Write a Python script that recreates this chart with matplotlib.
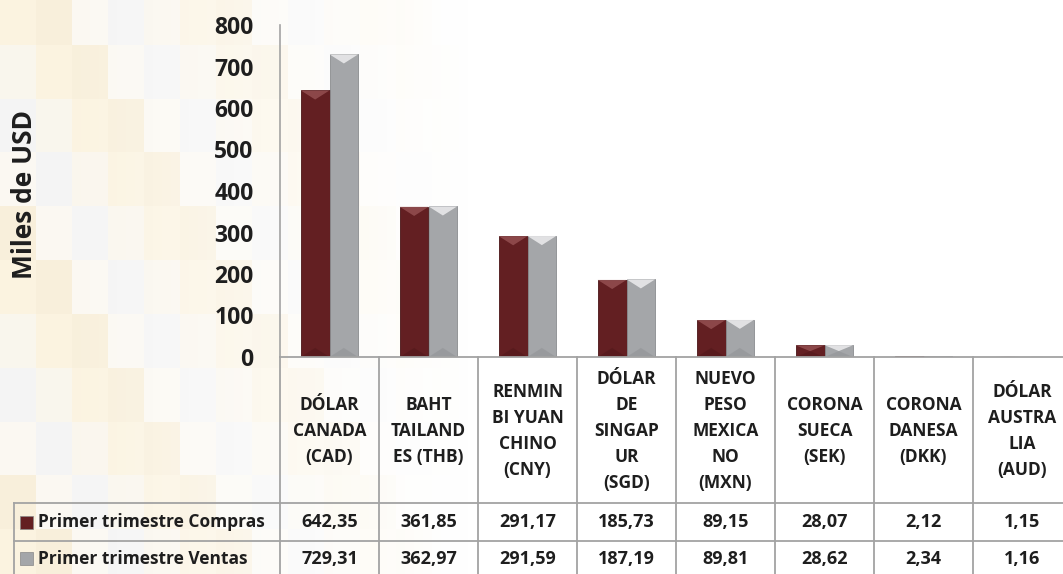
import numpy as np
import matplotlib
matplotlib.use("Agg")
import matplotlib.pyplot as plt
from matplotlib.patches import Polygon, Rectangle

# data
monedas = ["DÓLAR\nCANADA\n(CAD)", "BAHT\nTAILAND\nES (THB)", "RENMIN\nBI YUAN\nCHINO\n(CNY)",
           "DÓLAR\nDE\nSINGAP\nUR\n(SGD)", "NUEVO\nPESO\nMEXICA\nNO\n(MXN)", "CORONA\nSUECA\n(SEK)",
           "CORONA\nDANESA\n(DKK)", "DÓLAR\nAUSTRA\nLIA\n(AUD)"]
compras = [642.35, 361.85, 291.17, 185.73, 89.15, 28.07, 2.12, 1.15]
ventas = [729.31, 362.97, 291.59, 187.19, 89.81, 28.62, 2.34, 1.16]
series = ["Primer trimestre Compras", "Primer trimestre Ventas"]
y_ticks = [0, 100, 200, 300, 400, 500, 600, 700, 800]

plt.rcParams['font.family'] = ['Open Sans', 'DejaVu Sans']

C_COMPRA = "#631F22"
C_VENTA = "#A4A6A9"
C_LINE = "#A3A3A3"
C_TEXT = "#1E1E1E"

W, H = 1063, 574
fig = plt.figure(figsize=(W / 100, H / 100), dpi=100)
fig.patch.set_facecolor("white")

# faint blocky background pattern, fading to the right
bg = fig.add_axes([0, 0, 1, 1], zorder=0)
rows, cols = 64, 118
r, c = np.mgrid[0:rows, 0:cols]
band = ((c // 4 + (rows - r) // 6) % 5)
base = np.array([[0.985, 0.955, 0.88], [0.975, 0.94, 0.86], [0.985, 0.975, 0.95],
                 [0.96, 0.96, 0.96], [0.98, 0.965, 0.93]])
img = base[band]
fade = np.clip(1.15 - c / 45.0, 0, 1)[..., None]
img = 1 - (1 - img) * fade
bg.imshow(img, extent=[0, W, H, 0], aspect="auto", interpolation="nearest")
bg.set_xlim(0, W)
bg.set_ylim(H, 0)
bg.axis("off")

# main bar chart
col_w = 99
x0_px, x1_px = 280, 280 + 8 * col_w
ax = fig.add_axes([x0_px / W, (H - 357) / H, (x1_px - x0_px) / W, (357 - 25) / H], zorder=2)
ax.set_facecolor("none")
x = np.arange(len(monedas))
bw = 0.29
b1 = ax.bar(x - bw / 2, compras, bw, color=C_COMPRA, edgecolor="#4A1517", linewidth=0.6, zorder=3)
b2 = ax.bar(x + bw / 2, ventas, bw, color=C_VENTA, edgecolor="#8A8C8F", linewidth=0.6, zorder=3)

# bevel: light chevron on top, darker one at the base
for bars, hl, sh in ((b1, "#9A5557", "#4E1719"), (b2, "#F6F6F7", "#8E9093")):
    for b in bars:
        bx, bwid, bh = b.get_x(), b.get_width(), b.get_height()
        d = min(bh / 2, 22)
        top = Polygon([(bx, bh), (bx + bwid, bh), (bx + bwid / 2, bh - d)],
                      closed=True, facecolor=hl, edgecolor="none", alpha=0.75, zorder=4)
        bot = Polygon([(bx, 0), (bx + bwid, 0), (bx + bwid / 2, d)],
                      closed=True, facecolor=sh, edgecolor="none", alpha=0.5, zorder=4)
        ax.add_patch(top)
        ax.add_patch(bot)

ax.set_xlim(-0.5, 7.5)
ax.set_ylim(0, 800)
ax.set_yticks(y_ticks)
ax.set_yticklabels([str(v) for v in y_ticks], fontsize=16.5, fontweight="bold", color=C_TEXT)
ax.tick_params(axis="y", length=0, pad=19)
ax.set_xticks([])
for s in ("top", "right", "bottom"):
    ax.spines[s].set_visible(False)
ax.spines["left"].set_color(C_LINE)
ax.spines["left"].set_linewidth(1.2)
ax.set_ylabel("Miles de USD", fontsize=19, fontweight="bold", color=C_TEXT)
ax.yaxis.set_label_coords(-0.305, 0.49)

# data table under the chart
tb = fig.add_axes([0, 0, 1, 1], zorder=3)
tb.set_xlim(0, W)
tb.set_ylim(H, 0)
tb.axis("off")
tb.set_facecolor("none")

def cx(i):
    return x0_px + (i + 0.5) * col_w

y_hdr, y_r1, y_r2, y_end = 357, 503, 541, 580
left = 14
lw = 1.3
tb.plot([x0_px, x1_px], [y_hdr, y_hdr], color=C_LINE, lw=lw)
tb.plot([left, x1_px], [y_r1, y_r1], color=C_LINE, lw=lw)
tb.plot([left, x1_px], [y_r2, y_r2], color=C_LINE, lw=lw)
tb.plot([left, left], [y_r1, y_end], color=C_LINE, lw=lw)
for i in range(len(monedas) + 1):
    xb = x0_px + i * col_w
    tb.plot([xb, xb], [y_hdr, y_end], color=C_LINE, lw=lw)

for i, lab in enumerate(monedas):
    tb.text(cx(i), (y_hdr + y_r1) / 2 + 1, lab, ha="center", va="center", fontsize=12.5,
            fontweight="bold", color=C_TEXT, linespacing=1.58)
    tb.text(cx(i), (y_r1 + y_r2) / 2, f"{compras[i]:.2f}".replace(".", ","), ha="center",
            va="center", fontsize=13, fontweight="bold", color=C_TEXT)
    tb.text(cx(i), (y_r2 + 574) / 2 + 1, f"{ventas[i]:.2f}".replace(".", ","), ha="center",
            va="center", fontsize=13, fontweight="bold", color=C_TEXT)

for name, col, yc in ((series[0], C_COMPRA, (y_r1 + y_r2) / 2), (series[1], C_VENTA, (y_r2 + 574) / 2 + 1)):
    tb.add_patch(Rectangle((20, yc - 6.5), 13, 13, facecolor=col, edgecolor="#888888", lw=0.5))
    tb.text(38, yc, name, ha="left", va="center", fontsize=12.5, fontweight="bold", color=C_TEXT)

fig.savefig("out.png", dpi=100)
